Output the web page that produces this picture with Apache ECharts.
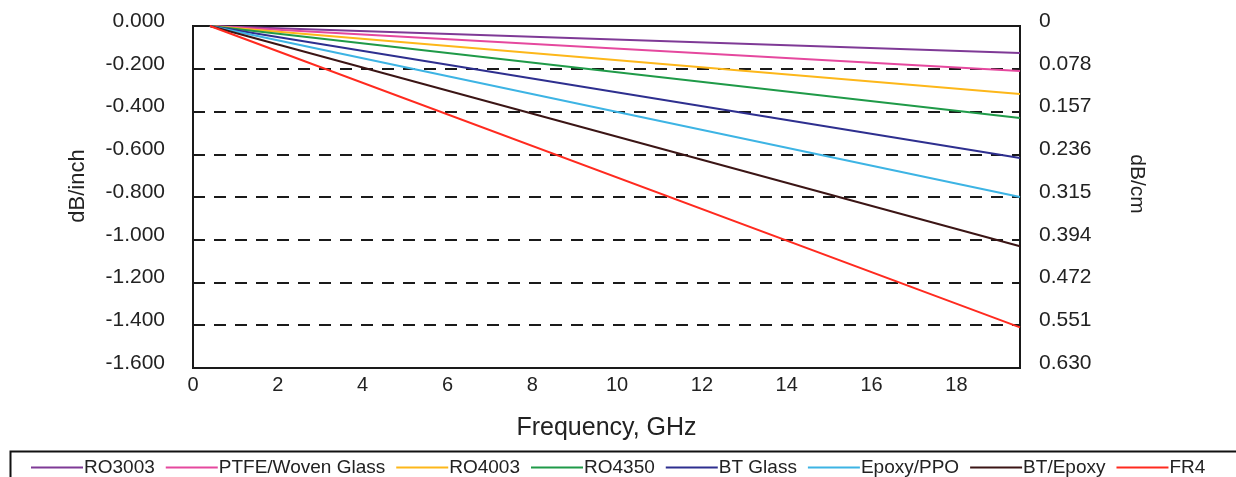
<!DOCTYPE html>
<html>
<head>
<meta charset="utf-8">
<script src="https://cdn.jsdelivr.net/npm/echarts@6/dist/echarts.min.js"></script>
<style>
html,body{margin:0;padding:0;background:#fff;}
#chart{width:1236px;height:477px;}
</style>
</head>
<body>
<div id="chart"></div>
<script>
// ---- data ----
var seriesNames = ['RO3003', 'PTFE/Woven Glass', 'RO4003', 'RO4350', 'BT Glass', 'Epoxy/PPO', 'BT/Epoxy', 'FR4'];
var seriesColors = ['#7f3a96', '#e5489e', '#fdb71a', '#1f9a48', '#2e2f8f', '#3db4e4', '#3b1515', '#ff2a1f'];
var freqGHz = [0.4, 19.5];
var lossRO3003 = [0, -0.126];
var lossPTFE = [0, -0.21];
var lossRO4003 = [0, -0.318];
var lossRO4350 = [0, -0.43];
var lossBTGlass = [0, -0.618];
var lossEpoxyPPO = [0, -0.80];
var lossBTEpoxy = [0, -1.03];
var lossFR4 = [0, -1.41];
var xTickLabels = ['0', '2', '4', '6', '8', '10', '12', '14', '16', '18'];
var leftTickLabels = ['0.000', '-0.200', '-0.400', '-0.600', '-0.800', '-1.000', '-1.200', '-1.400', '-1.600'];
var rightTickLabels = ['0', '0.078', '0.157', '0.236', '0.315', '0.394', '0.472', '0.551', '0.630'];

var allLoss = [lossRO3003, lossPTFE, lossRO4003, lossRO4350, lossBTGlass, lossEpoxyPPO, lossBTEpoxy, lossFR4];

var FONT = 'Liberation Sans';

function pairs(vals) {
  return freqGHz.map(function (f, i) { return [f, vals[i]]; });
}

var series = seriesNames.map(function (name, i) {
  return {
    name: name,
    type: 'line',
    data: pairs(allLoss[i]),
    showSymbol: false,
    symbol: 'none',
    lineStyle: { color: seriesColors[i], width: 2 },
    itemStyle: { color: seriesColors[i] },
    z: 3 + i,
    animation: false
  };
});

function tickIndex(v) { return Math.round(-v / 0.2); }

var chart = echarts.init(document.getElementById('chart'), null, { renderer: 'canvas' });
chart.setOption({
  backgroundColor: '#fff',
  animation: false,
  textStyle: { fontFamily: FONT },
  grid: {
    left: 193, right: 216, top: 26, bottom: 109,
    show: true, borderColor: '#1a1a1a', borderWidth: 2, backgroundColor: 'transparent'
  },
  legend: {
    left: 26, top: 453,
    itemWidth: 52, itemHeight: 12, itemGap: 11,
    icon: 'path://M0,5 L52,5 L52,7 L0,7 Z',
    textStyle: { fontFamily: FONT, fontSize: 19, color: '#222', padding: [0, 0, 0, -4] },
    data: seriesNames.map(function (n, i) { return { name: n, itemStyle: { color: seriesColors[i] } }; })
  },
  graphic: [{
    type: 'rect', left: 8, top: 449,
    shape: { width: 1240, height: 40 },
    style: { fill: 'none', stroke: '#111', lineWidth: 2 },
    silent: true
  }],
  xAxis: {
    type: 'value', min: 0, max: 19.5, interval: 2,
    name: 'Frequency, GHz', nameLocation: 'middle', nameGap: 48,
    nameTextStyle: { fontFamily: FONT, fontSize: 25, color: '#222' },
    axisLine: { show: true, onZero: false, lineStyle: { color: '#1a1a1a', width: 2 } },
    axisTick: { show: false },
    splitLine: { show: false },
    axisLabel: {
      fontFamily: FONT, fontSize: 20, color: '#222', margin: 7,
      showMaxLabel: false,
      formatter: function (v) { var i = Math.round(v / 2); return xTickLabels[i] !== undefined ? xTickLabels[i] : ''; }
    }
  },
  yAxis: [{
    type: 'value', min: -1.6, max: 0, interval: 0.2, position: 'left',
    name: 'dB/inch', nameLocation: 'middle', nameGap: 104, nameRotate: 90,
    nameTextStyle: { fontFamily: FONT, fontSize: 22, color: '#222', padding: [0, 0, 0, 22] },
    axisLine: { show: true, onZero: false, lineStyle: { color: '#1a1a1a', width: 2 } },
    axisTick: { show: false },
    axisLabel: {
      fontFamily: FONT, fontSize: 21, color: '#222', margin: 28,
      verticalAlign: 'bottom', lineHeight: 10,
      formatter: function (v) { return leftTickLabels[tickIndex(v)] || ''; }
    },
    splitLine: { show: true, lineStyle: { color: '#1a1a1a', width: 2, type: [12, 9] } }
  }, {
    type: 'value', min: -1.6, max: 0, interval: 0.2, position: 'right',
    name: 'dB/cm', nameLocation: 'middle', nameGap: 106, nameRotate: -90,
    nameTextStyle: { fontFamily: FONT, fontSize: 21, color: '#222', padding: [0, 26, 0, 0] },
    axisLine: { show: true, onZero: false, lineStyle: { color: '#1a1a1a', width: 2 } },
    axisTick: { show: false },
    axisLabel: {
      fontFamily: FONT, fontSize: 21, color: '#222', margin: 19,
      verticalAlign: 'bottom', lineHeight: 10,
      formatter: function (v) { return rightTickLabels[tickIndex(v)] || ''; }
    },
    splitLine: { show: false }
  }],
  series: series
});
</script>
</body>
</html>
